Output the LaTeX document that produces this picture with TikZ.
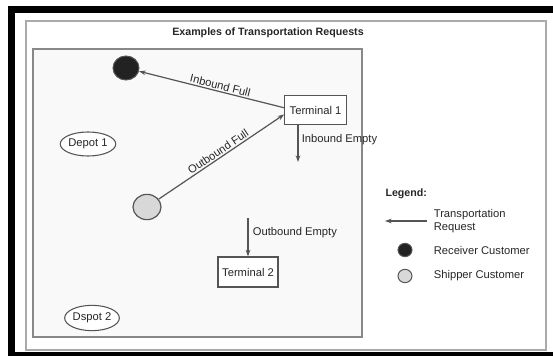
\documentclass[tikz,border=0pt]{standalone}
\usepackage{fontspec}
\setmainfont{Liberation Sans}
\usetikzlibrary{arrows.meta,shapes.geometric}

\definecolor{lineGray}{RGB}{85,85,85}
\definecolor{frameGray}{RGB}{170,170,170}
\definecolor{panelGray}{RGB}{249,249,249}
\definecolor{recvFill}{RGB}{34,34,34}
\definecolor{shipFill}{RGB}{216,216,216}

\tikzset{every picture/.style={line width=0.75pt}}
\tikzset{
  txt/.style={font=\fontsize{8.4}{10}\selectfont, text=black!85},
  terminal/.style={txt, draw=lineGray, fill=white, line width=0.9pt, minimum width=46pt, minimum height=21.5pt, inner sep=0pt},
  depot/.style={txt, ellipse, draw=lineGray, fill=white, line width=0.8pt, minimum width=38pt, minimum height=18pt, inner sep=0pt},
  receiver/.style={ellipse, draw=lineGray, fill=recvFill, minimum width=19.5pt, minimum height=18pt, inner sep=0pt},
  shipper/.style={ellipse, draw=lineGray, fill=shipFill, line width=0.9pt, minimum width=21pt, minimum height=19pt, inner sep=0pt},
  req/.style={draw=lineGray, line width=0.9pt, -{Stealth[length=5pt,width=3.5pt]}},
  lbl/.style={txt, inner sep=1pt}
}

\begin{document}
\begin{tikzpicture}[x=0.75pt,y=0.75pt,yscale=-1,xscale=1]
	\useasboundingbox (0,0) rectangle (553,356);

	%Frames
	\fill [black] (8,6.5) rectangle (553,13.5);
	\fill [black] (8,6.5) rectangle (15,356);
	\fill [black] (8,351.5) rectangle (553,356);
	\draw [frameGray, line width=1.3pt] (26,21) rectangle (546,350);
	\draw [lineGray!70, fill=panelGray, line width=0.9pt] (33,49) rectangle (362,337);

	%Title
	\node [font=\bfseries\fontsize{8}{10}\selectfont, text=black!85] (title) at (268,33) {Examples of Transportation Requests};

	%Nodes
	\node [receiver] (rec) at (126,68) {};
	\node [shipper] (ship) at (147,207) {};
	\node [terminal] (t1) at (315.5,110) {Terminal 1};
	\node [terminal, minimum width=45pt, minimum height=22.5pt] (t2) at (248,272) {Terminal 2};
	\node [depot] (d1) at (88,144) {Depot 1};
	\node [depot, minimum width=41pt, minimum height=19pt] (d2) at (92,318) {Dspot 2};

	%Requests
	\draw [req] (t1.176) -- node [lbl, pos=0.45, rotate=-14, anchor=south] {Inbound Full} (rec);
	\draw [req] (ship) -- node [lbl, midway, rotate=34, anchor=south] {Outbound Full} (t1.188);
	\coordinate (ie) at (298,162);
	\draw [req] (t1.south -| ie) -- (ie);
	\node [lbl, anchor=west] (ielbl) at (300,140) {Inbound Empty};
	\coordinate (oe) at (248,218);
	\draw [req] (oe) -- (t2.north);
	\node [lbl, anchor=west] (oelbl) at (251,233) {Outbound Empty};

	%Legend
	\node [font=\bfseries\fontsize{8}{10}\selectfont, text=black!85, anchor=west, inner sep=0pt] (leg) at (385,194) {Legend:};
	\coordinate (la1) at (427,221);
	\coordinate (la2) at (385,221);
	\draw [req] (la1) -- (la2);
	\node [lbl, anchor=west, align=left] (legreq) at (432,221) {Transportation\\Request};
	\node [receiver, minimum width=10.5pt, minimum height=10pt] (legrec) at (405,250) {};
	\node [lbl, anchor=west] (legrectxt) at (432,250) {Receiver Customer};
	\node [shipper, minimum width=10.5pt, minimum height=10pt, line width=0.75pt] (legship) at (405,276) {};
	\node [lbl, anchor=west] (legshiptxt) at (432,276) {Shipper Customer};

\end{tikzpicture}
\end{document}
